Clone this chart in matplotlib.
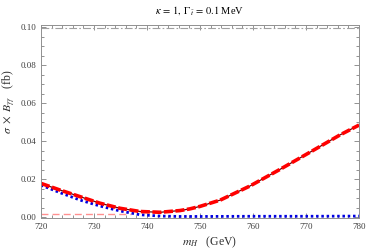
import matplotlib
matplotlib.use("Agg")
import matplotlib.pyplot as plt
from matplotlib.ticker import MultipleLocator

plt.rcParams["font.family"] = "Liberation Serif"
plt.rcParams["mathtext.fontset"] = "stix"

# total signal (red)
m_total = [720, 723.6, 727.4, 731.1, 734.9, 738.7, 742.5, 746.2, 748.1, 750, 753.8,
           759.4, 765.1, 770.8, 776.4, 780]
sigma_total = [0.0177, 0.0142, 0.0107, 0.0073, 0.0046, 0.0029, 0.0025, 0.0034, 0.0043,
               0.0056, 0.0089, 0.0163, 0.0251, 0.0342, 0.0432, 0.0484]

# resonant part (blue dotted)
m_blue = [720, 723.6, 727.4, 731.1, 734.9, 738.7, 742.5, 746.2, 750, 760, 770, 780]
sigma_blue = [0.0168, 0.0128, 0.0089, 0.0058, 0.0032, 0.0012, 0.0005, 0.0003, 0.0003,
              0.0004, 0.0004, 0.0005]

m_pink = [720, 737]
sigma_pink = [0.0018, 0.0018]

m_gray = [720, 780]
sigma_gray = [0.0993, 0.0993]

fig = plt.figure(figsize=(3.74, 2.52), dpi=100)
ax = fig.add_axes([0.1096, 0.135, 0.8504, 0.766])

ax.plot(m_gray, sigma_gray, color="#a0a0a0", lw=0.8, dashes=(7, 2, 1.5, 2))
ax.plot(m_pink, sigma_pink, color="#ff9090", lw=1.0, dashes=(5, 3))
ax.plot(m_blue, sigma_blue, color="#0000e0", lw=2.0, dashes=(0.9, 1.0), dash_capstyle="butt")
ax.plot(m_total, sigma_total, color="#700000", lw=0.9)
ax.plot(m_total, sigma_total, color="#ff0000", lw=2.6, dashes=(2.5, 0.7))

ax.set_xlim(720, 780)
ax.set_ylim(-0.0005, 0.1011)
ax.xaxis.set_major_locator(MultipleLocator(10))
ax.xaxis.set_minor_locator(MultipleLocator(2))
ax.yaxis.set_major_locator(MultipleLocator(0.02))
ax.yaxis.set_minor_locator(MultipleLocator(0.005))
ax.yaxis.set_major_formatter(lambda v, p: f"{v:.2f}")

ax.tick_params(which="both", direction="in", top=True, right=True,
               color="#808080", labelcolor="#404040", labelsize=6.5, width=0.6)
ax.tick_params(which="major", length=3.5)
ax.tick_params(which="minor", length=2)
for s in ax.spines.values():
    s.set_color("#909090")
    s.set_linewidth(0.7)

ax.set_title(r"$\kappa\, =\, 1,\ \Gamma_{\tilde{t}}\, =\, 0.1$ MeV", fontsize=7.5, pad=8)
ax.set_xlabel(r"$m_H$   (GeV)", fontsize=8.5, color="#303030")
ax.set_ylabel(r"$\sigma\ \times\ B_{\gamma\gamma}$   (fb)", fontsize=8.5, color="#303030")
ax.xaxis.set_label_coords(0.53, -0.085)
ax.yaxis.set_label_coords(-0.075, 0.6)

plt.savefig("out.png", dpi=100)
